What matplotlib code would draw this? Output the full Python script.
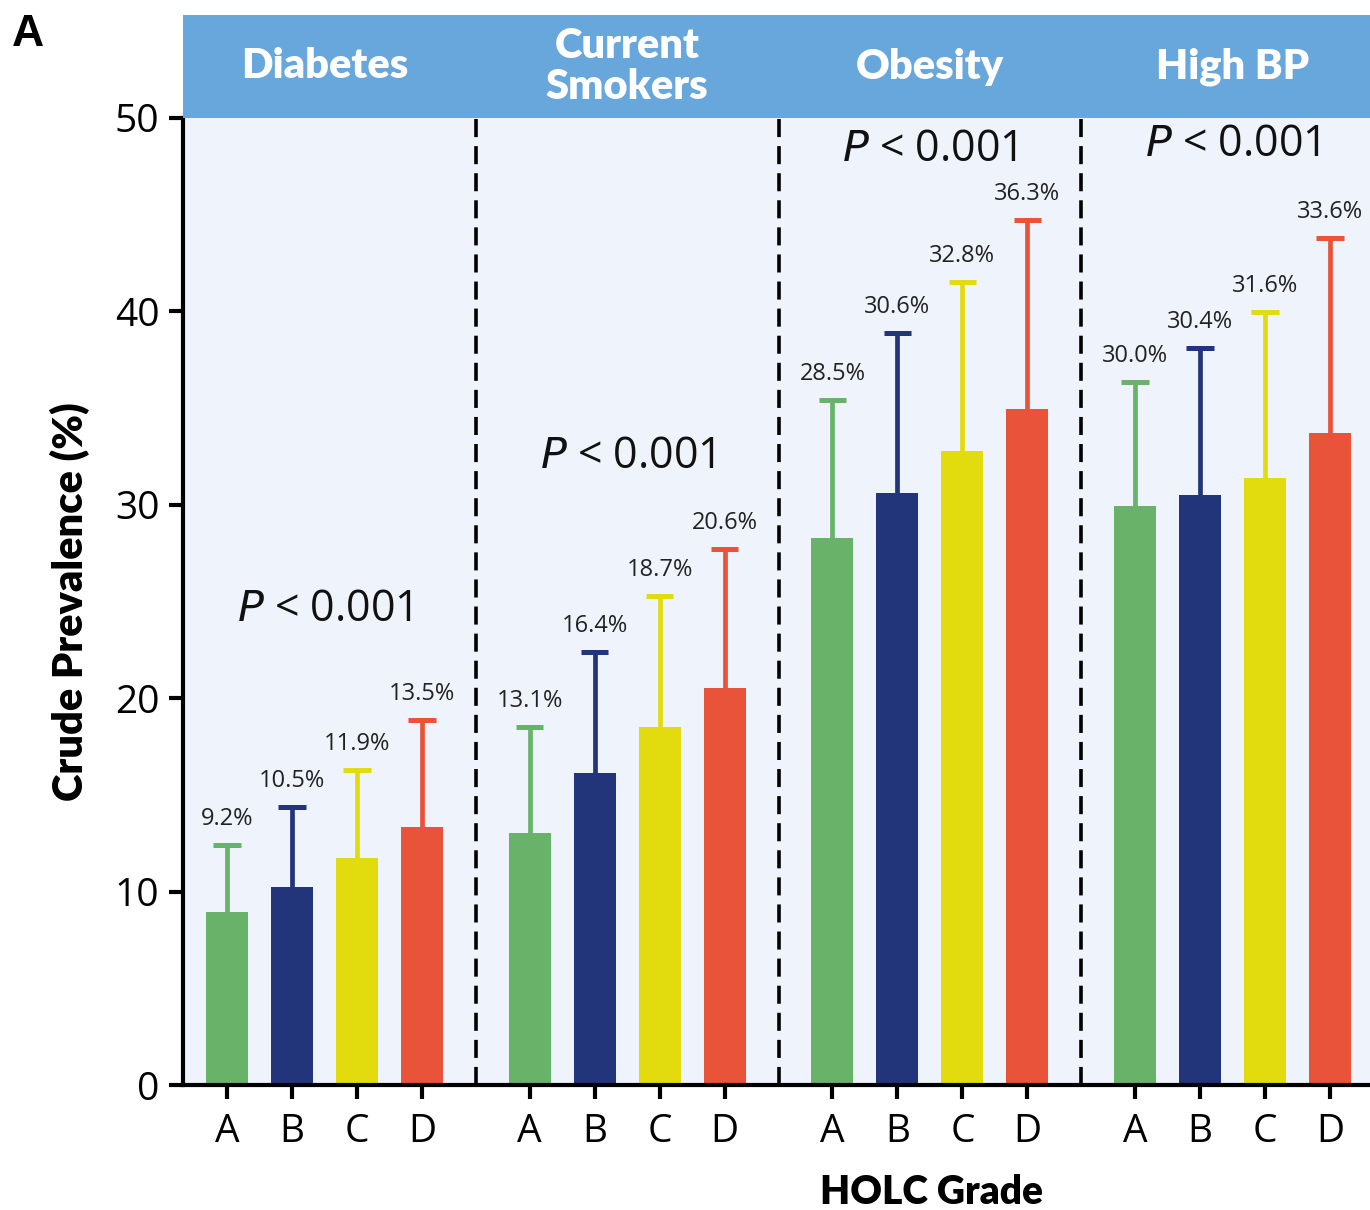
import matplotlib.pyplot as plt
from matplotlib.patches import Rectangle

# ------------------------------------------------------------
# Data
# ------------------------------------------------------------
outcomes = ["Diabetes", "Current\nSmokers", "Obesity", "High BP"]
grades = ["A", "B", "C", "D"]

bar_heights = [
    [8.95, 10.24, 11.74, 13.34],   # Diabetes
    [13.03, 16.13, 18.51, 20.53],  # Current smokers
    [28.28, 30.61, 32.78, 34.95],  # Obesity
    [29.94, 30.51, 31.39, 33.71],  # High BP
]
upper_ci = [
    [12.41, 14.37, 16.29, 18.87],
    [18.51, 22.39, 25.28, 27.71],
    [35.42, 38.88, 41.52, 44.73],
    [36.35, 38.11, 39.97, 43.80],
]
value_labels = [
    ["9.2%", "10.5%", "11.9%", "13.5%"],
    ["13.1%", "16.4%", "18.7%", "20.6%"],
    ["28.5%", "30.6%", "32.8%", "36.3%"],
    ["30.0%", "30.4%", "31.6%", "33.6%"],
]
p_text_y = [24.56, 32.47, 48.35, 48.6]

# ------------------------------------------------------------
# Style
# ------------------------------------------------------------
grade_colors = ["#68b26a", "#22357b", "#e2dc0e", "#e8533a"]
header_color = "#67a7db"
panel_bg = "#eff3fb"
group_gap = 4.657
bar_width = 0.646
cap_half = 0.21

fig = plt.figure(figsize=(13.7, 12.1), dpi=100)
ax = fig.add_axes([183 / 1370, 1 - 1085 / 1210, 1 - 183 / 1370, (1085 - 118) / 1210])
ax.set_facecolor(panel_bg)

xticks = []
for g in range(len(outcomes)):
    for i in range(len(grades)):
        x = g * group_gap + i
        xticks.append(x)
        h = bar_heights[g][i]
        top = upper_ci[g][i]
        ax.bar(x, h, width=bar_width, color=grade_colors[i], zorder=2)
        # upper error bar only
        ax.vlines(x, h, top, color=grade_colors[i], lw=3.4, zorder=2)
        ax.hlines(top, x - cap_half, x + cap_half, color=grade_colors[i], lw=3.6, zorder=2)
        ax.text(x, top + 1.35, value_labels[g][i], ha="center", va="center",
                fontsize=17, family="Open Sans", color="#222222", zorder=3)
    gc = g * group_gap + 1.5
    ax.text(gc, p_text_y[g], r"$\it{P}$ < 0.001", ha="center", va="center",
            fontsize=31, family="Open Sans", color="#111111")
    if g > 0:
        ax.axvline(g * group_gap - (group_gap - 3) / 2, color="black", lw=2.6,
                   ls=(0, (5, 2.5)), zorder=1)

ax.set_xlim(-0.677, 17.585)
ax.set_ylim(0, 50)
ax.set_yticks([0, 10, 20, 30, 40, 50])
ax.set_xticks(xticks)
ax.set_xticklabels(grades * len(outcomes))
for lab in ax.get_xticklabels() + ax.get_yticklabels():
    lab.set_fontfamily("Open Sans")
    lab.set_fontsize(28)
ax.tick_params(axis="both", length=10, width=3, direction="out", pad=7)
ax.tick_params(axis="x", pad=10)
for side in ["top", "right"]:
    ax.spines[side].set_visible(False)
for side in ["left", "bottom"]:
    ax.spines[side].set_linewidth(3)

ax.set_ylabel("Crude Prevalence (%)", fontsize=30, fontweight="heavy",
              family="Lato")
ax.yaxis.set_label_coords(-(183 - 70) / (1370 - 183), 0.5)
ax.yaxis.label.set_va("center")
ax.set_xlabel("HOLC Grade", fontsize=28, fontweight="heavy", family="Lato")
ax.xaxis.set_label_coords((931 - 183) / (1370 - 183), -(1193 - 1085) / (1085 - 118))
ax.xaxis.label.set_va("center")

# header band with outcome names
hax = fig.add_axes([183 / 1370, 1 - 118 / 1210, 1 - 183 / 1370, 103 / 1210])
hax.set_xlim(ax.get_xlim())
hax.set_ylim(0, 1)
hax.add_patch(Rectangle((-1, 0), 30, 1, color=header_color))
hax.axis("off")
for g, name in enumerate(outcomes):
    hax.text(g * group_gap + 1.5, 0.5, name, ha="center", va="center", color="white",
             fontsize=30, fontweight="heavy", family="Lato", linespacing=1.12)

fig.text(12 / 1370, 1 - 34 / 1210, "A", fontsize=32, fontweight="bold",
         family="Liberation Sans", va="center", ha="left")

fig.savefig("out.png", dpi=100)
